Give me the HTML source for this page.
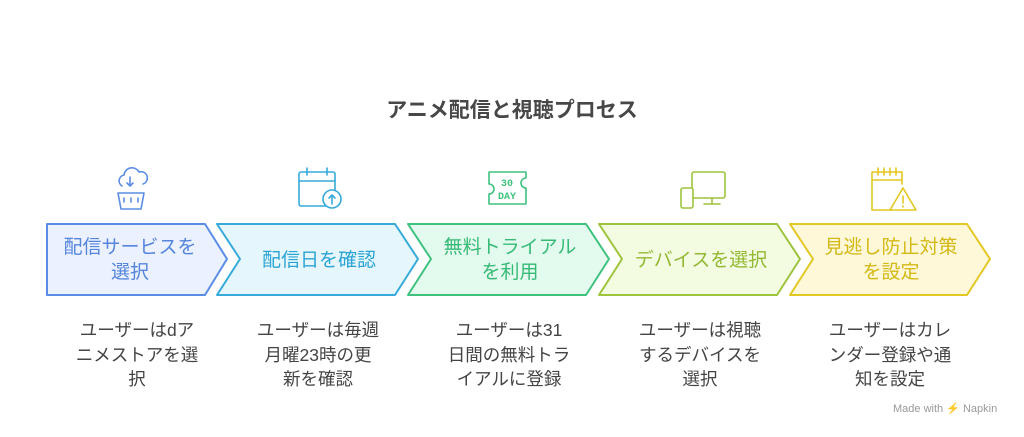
<!DOCTYPE html>
<html><head><meta charset="utf-8"><style>
body{margin:0;width:1024px;height:437px;background:#fff;position:relative;overflow:hidden;font-family:"Liberation Sans","Noto Sans CJK JP",sans-serif}
.t{position:absolute;text-align:center;color:#454545}
.lbl{position:absolute;text-align:center;font-size:19px;line-height:25px;display:flex;align-items:center;justify-content:center}
.d{position:absolute;width:180px;text-align:center;font-size:17.5px;line-height:24.5px;color:#444;top:318px}
</style></head><body>
<div class="t" style="left:0;width:1024px;top:94px;font-size:21px;font-weight:bold;color:#474747">アニメ配信と視聴プロセス</div>
<svg width="1024" height="437" style="position:absolute;left:0;top:0">
<g stroke-width="2" stroke-linejoin="round">
<polygon points="47,224 205,224 227,259 205,295 47,295" fill="#ebf1fe" stroke="#5b8de6"/>
<polygon points="217,224 395,224 418,259 395,295 217,295 240,259" fill="#e5f7fd" stroke="#36aadb"/>
<polygon points="408,224 586,224 609,259 586,295 408,295 431,259" fill="#e3faee" stroke="#3ec27e"/>
<polygon points="599,224 777,224 800,259 777,295 599,295 622,259" fill="#f3fbe1" stroke="#9dc43c"/>
<polygon points="790,224 967,224 990,259 967,295 790,295 813,259" fill="#fef8d8" stroke="#e3c722"/>
</g>
<g fill="none" stroke-width="1.6" stroke-linecap="round" stroke-linejoin="round">
<g stroke="#5b8de6">
<path d="M122,186 a6,6 0 0 1 2,-11 a8,8 0 0 1 15,-3 a6,6 0 0 1 4,12 "/>
<path d="M130,177 v9 m-3,-3 l3,3 l3,-3"/>
<path d="M118,193 h26 l-3,16 h-20 z M124,198 v4 M131,198 v4 M138,198 v4"/>
</g>
<g stroke="#36aadb">
<rect x="299" y="172" width="36" height="34" rx="2"/>
<path d="M299,181 h36 M307,168 v7 M327,168 v7"/>
<circle cx="332" cy="199" r="9" fill="#fff"/>
<path d="M332,204 v-9 m-3,3 l3,-3 l3,3"/>
</g>
<g stroke="#3ec27e">
<path d="M489,172 h37 v6 a5,5 0 0 0 0,10 v16 h-37 v-10 a5,5 0 0 0 0,-10 z"/>
</g>
<g stroke="#9dc43c">
<rect x="692" y="172" width="33" height="26" rx="2"/>
<path d="M704,204 h16 M712,198 v6"/>
<rect x="681" y="188" width="12" height="20" rx="2" fill="#fff"/>
</g>
<g stroke="#e3c722">
<path d="M893,210 h-21 v-38 h30 v12 M872,180 h30 M878,168 v7 M884,168 v7 M890,168 v7 M896,168 v7"/>
<path d="M903,188 l13,22 h-26 z" fill="#fff"/>
<path d="M903,196 v7 M903,206 v1"/>
</g>
</g>
<text x="507" y="186" font-size="10" font-weight="bold" fill="#3ec27e" text-anchor="middle" font-family="Liberation Mono,monospace">30</text>
<text x="507" y="199" font-size="10" font-weight="bold" fill="#3ec27e" text-anchor="middle" font-family="Liberation Mono,monospace">DAY</text>
</svg>
<div class="lbl" style="left:48px;top:224px;width:164px;height:72px;color:#5585dd">配信サービスを<br>選択</div>
<div class="lbl" style="left:240px;top:224px;width:158px;height:72px;color:#2ca3d4">配信日を確認</div>
<div class="lbl" style="left:430px;top:224px;width:160px;height:72px;color:#37ba76">無料トライアル<br>を利用</div>
<div class="lbl" style="left:621px;top:224px;width:160px;height:72px;color:#93b934">デバイスを選択</div>
<div class="lbl" style="left:812px;top:224px;width:158px;height:72px;color:#d3b816">見逃し防止対策<br>を設定</div>
<div class="d" style="left:47px">ユーザーはdア<br>ニメストアを選<br>択</div>
<div class="d" style="left:228px">ユーザーは毎週<br>月曜23時の更<br>新を確認</div>
<div class="d" style="left:419px">ユーザーは31<br>日間の無料トラ<br>イアルに登録</div>
<div class="d" style="left:610px">ユーザーは視聴<br>するデバイスを<br>選択</div>
<div class="d" style="left:800px">ユーザーはカレ<br>ンダー登録や通<br>知を設定</div>
<div style="position:absolute;left:893px;top:402px;font-size:11px;color:#999">Made with ⚡ Napkin</div>
</body></html>
